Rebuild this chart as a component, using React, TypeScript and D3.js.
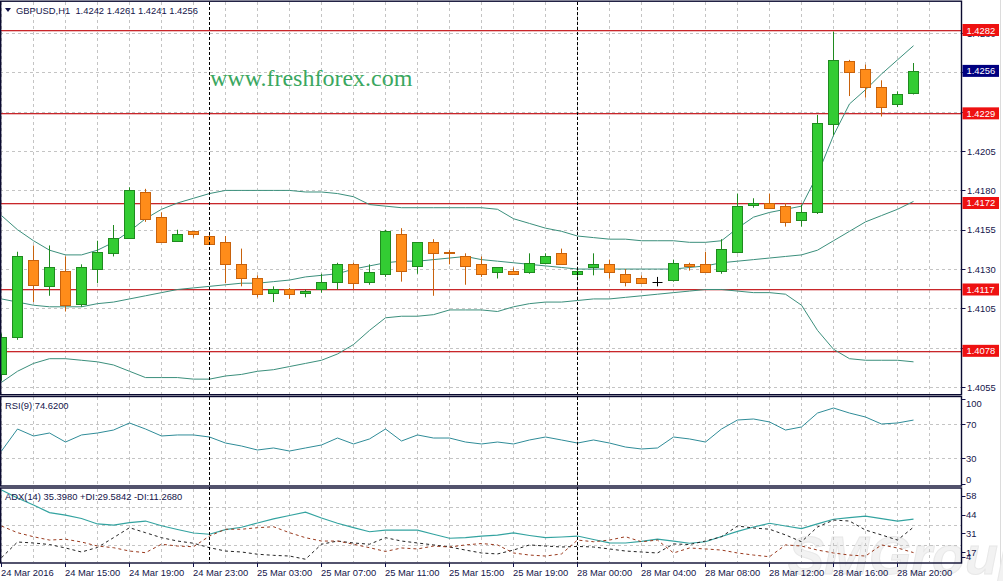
import * as d3 from "d3";
import React from "react";

// GBPUSD H1, 24 Mar 11:00 .. 28 Mar 21:00 (58 bars)
const opens = [1.4063, 1.4087, 1.4136, 1.4119, 1.4129, 1.4108, 1.413, 1.414, 1.415, 1.4179,
	1.4163, 1.4148, 1.4154, 1.4151, 1.4147, 1.4133, 1.4124, 1.4115, 1.4117, 1.4115,
	1.4117, 1.4122, 1.4133, 1.4122, 1.4127, 1.4152, 1.4132, 1.4147, 1.4141, 1.4138,
	1.4133, 1.4128, 1.4129, 1.4128, 1.4134, 1.414, 1.4127, 1.4131, 1.4133, 1.4127,
	1.4124, 1.4122, 1.4123, 1.4133, 1.4133, 1.4129, 1.4141, 1.4171, 1.4172, 1.417,
	1.4161, 1.4166, 1.4222, 1.4262, 1.4257, 1.4246, 1.4235, 1.4242];
const highs = [1.4089, 1.4141, 1.4145, 1.4145, 1.4138, 1.4133, 1.4148, 1.4158, 1.4182, 1.4181,
	1.4166, 1.4155, 1.4154, 1.4152, 1.4151, 1.4143, 1.4126, 1.4119, 1.4118, 1.4117,
	1.4127, 1.4134, 1.4134, 1.4133, 1.4155, 1.4156, 1.4147, 1.4149, 1.4142, 1.414,
	1.4138, 1.4131, 1.4131, 1.414, 1.414, 1.4143, 1.4131, 1.414, 1.4136, 1.413,
	1.4126, 1.4125, 1.4136, 1.4134, 1.4141, 1.4149, 1.4178, 1.4175, 1.4178, 1.4172,
	1.4171, 1.4228, 1.4281, 1.4263, 1.426, 1.425, 1.4243, 1.4261];
const lows = [1.4059, 1.4085, 1.4109, 1.4113, 1.4103, 1.4106, 1.4121, 1.4138, 1.415, 1.416,
	1.4147, 1.4148, 1.415, 1.4146, 1.4121, 1.4119, 1.4112, 1.4109, 1.4111, 1.4112,
	1.4115, 1.4117, 1.4117, 1.412, 1.4125, 1.4122, 1.4127, 1.4113, 1.4133, 1.412,
	1.4125, 1.4124, 1.4127, 1.4127, 1.4133, 1.4133, 1.4124, 1.4126, 1.4124, 1.4119,
	1.4121, 1.4119, 1.4122, 1.4129, 1.4128, 1.4127, 1.414, 1.4169, 1.4169, 1.4157,
	1.4157, 1.4165, 1.4215, 1.424, 1.4239, 1.4227, 1.4233, 1.4241];
const closes = [1.4087, 1.4138, 1.412, 1.4131, 1.4107, 1.4131, 1.4141, 1.415, 1.418, 1.4162,
	1.4147, 1.4152, 1.4152, 1.4146, 1.4133, 1.4124, 1.4114, 1.4117, 1.4114, 1.4116,
	1.4122, 1.4133, 1.4121, 1.4128, 1.4154, 1.4129, 1.4147, 1.414, 1.414, 1.4132,
	1.4127, 1.4131, 1.4127, 1.4134, 1.4138, 1.4133, 1.4129, 1.4133, 1.4128, 1.4122,
	1.4121, 1.4122, 1.4134, 1.4132, 1.4128, 1.4143, 1.417, 1.4172, 1.4169, 1.416,
	1.4166, 1.4223, 1.4263, 1.4255, 1.4246, 1.4233, 1.4241, 1.4256];

// Bollinger bands
const bbUpper = [1.4164, 1.4155, 1.4148, 1.4142, 1.4139, 1.4139, 1.4142, 1.4147, 1.4154, 1.4162,
	1.4168, 1.4172, 1.4175, 1.4178, 1.418, 1.418, 1.418, 1.418, 1.418, 1.4179,
	1.4179, 1.4178, 1.4176, 1.4171, 1.417, 1.4169, 1.4169, 1.4169, 1.4169, 1.4169,
	1.4169, 1.4168, 1.4162, 1.4159, 1.4156, 1.4154, 1.4151, 1.415, 1.4149, 1.4149,
	1.4148, 1.4148, 1.4148, 1.4147, 1.4147, 1.4148, 1.4156, 1.4163, 1.4166, 1.4168,
	1.417, 1.419, 1.4215, 1.4235, 1.4244, 1.4254, 1.4263, 1.4272];
const bbMiddle = [1.4111, 1.4109, 1.4107, 1.4106, 1.4106, 1.4106, 1.4108, 1.4109, 1.4111, 1.4113,
	1.4115, 1.4117, 1.4118, 1.4119, 1.412, 1.4121, 1.4121, 1.4122, 1.4123, 1.4125,
	1.4126, 1.4127, 1.413, 1.4132, 1.4134, 1.4135, 1.4135, 1.4136, 1.4137, 1.4138,
	1.4136, 1.4135, 1.4134, 1.4133, 1.4132, 1.4131, 1.413, 1.413, 1.413, 1.413,
	1.413, 1.413, 1.413, 1.4131, 1.4132, 1.4134, 1.4135, 1.4136, 1.4137, 1.4138,
	1.4139, 1.4142, 1.4148, 1.4154, 1.416, 1.4164, 1.4168, 1.4173];
const bbLower = [1.4058, 1.4065, 1.407, 1.4073, 1.4073, 1.4072, 1.4071, 1.4069, 1.4065, 1.4061,
	1.4061, 1.4061, 1.406, 1.406, 1.4062, 1.4063, 1.4065, 1.4066, 1.4068, 1.407,
	1.4072, 1.4076, 1.4082, 1.4091, 1.4099, 1.41, 1.41, 1.4101, 1.4104, 1.4104,
	1.4104, 1.4103, 1.4106, 1.4108, 1.4109, 1.4109, 1.411, 1.4111, 1.4111, 1.4112,
	1.4113, 1.4114, 1.4115, 1.4116, 1.4117, 1.4117, 1.4116, 1.4115, 1.4115, 1.4114,
	1.4107, 1.4091, 1.4079, 1.4073, 1.4072, 1.4072, 1.4072, 1.4071];

const rsi = [38.2, 64.1, 55.9, 59.4, 48.8, 57.1, 59.4, 62.9, 71.2, 64.1,
	55.9, 57.1, 57.1, 54.7, 47.6, 44.1, 39.4, 41.8, 38.2, 41.8,
	45.3, 53.5, 46.5, 52.4, 64.1, 50.0, 57.1, 53.5, 53.5, 48.8,
	46.5, 48.8, 46.5, 51.2, 54.7, 51.2, 47.6, 51.2, 47.6, 42.9,
	40.6, 41.8, 54.7, 52.4, 48.8, 64.1, 74.7, 75.9, 72.4, 62.9,
	66.5, 82.9, 88.8, 82.9, 78.2, 70.0, 71.2, 74.62];

const adx = [56.3, 50.6, 45.5, 40.1, 38.3, 35.8, 31.9, 31.1, 32.8, 34.0,
	30.6, 27.9, 25.4, 24.5, 27.8, 29.5, 32.6, 35.6, 38.0, 40.4,
	36.2, 32.4, 29.3, 26.3, 27.5, 27.5, 27.5, 24.5, 21.6, 22.1,
	23.2, 23.9, 25.4, 23.6, 22.0, 22.5, 23.2, 20.7, 18.3, 18.2,
	19.4, 20.9, 19.6, 18.0, 19.1, 22.9, 26.6, 29.7, 32.4, 30.4,
	28.5, 31.9, 35.3, 36.5, 37.6, 35.8, 34.0, 35.398];
const plusDi = [7.6, 18.9, 18.2, 17.1, 14.6, 11.7, 15.0, 22.0, 29.2, 25.6,
	22.0, 19.6, 18.0, 14.8, 12.4, 11.7, 10.1, 9.3, 8.8, 6.5,
	17.3, 19.6, 18.2, 17.3, 22.0, 19.6, 18.2, 16.8, 15.3, 13.1,
	11.0, 10.3, 13.1, 16.8, 16.0, 15.3, 15.7, 15.3, 13.9, 12.4,
	11.7, 11.0, 17.5, 17.1, 19.6, 22.7, 30.4, 29.0, 28.1, 24.0,
	19.1, 29.7, 34.7, 34.0, 27.5, 24.0, 20.3, 29.5842];
const minusDi = [30.4, 25.6, 22.7, 20.3, 20.9, 18.9, 16.0, 14.8, 12.4, 11.2,
	17.3, 16.0, 15.5, 23.2, 28.1, 28.1, 29.2, 29.9, 25.6, 22.0,
	19.6, 19.6, 17.3, 14.8, 12.1, 14.6, 13.9, 16.0, 15.3, 16.8,
	17.8, 16.8, 11.0, 9.5, 8.8, 10.3, 20.3, 19.1, 20.3, 22.7,
	19.1, 20.3, 11.0, 14.6, 13.9, 13.1, 11.0, 9.5, 8.3, 16.8,
	16.0, 13.1, 11.0, 9.5, 8.8, 16.8, 14.6, 11.268];

const timeLabels = ["24 Mar 2016", "24 Mar 15:00", "24 Mar 19:00", "24 Mar 23:00", "25 Mar 03:00",
	"25 Mar 07:00", "25 Mar 11:00", "25 Mar 15:00", "25 Mar 19:00", "28 Mar 00:00",
	"28 Mar 04:00", "28 Mar 08:00", "28 Mar 12:00", "28 Mar 16:00", "28 Mar 20:00"];
const daySeparators = [13, 36]; // bar index of 25 Mar 00:00 and 28 Mar 00:00
const priceTicks = [1.4055, 1.408, 1.4105, 1.413, 1.4155, 1.418, 1.4205, 1.423, 1.4255, 1.428];
const levels = [1.4282, 1.4229, 1.4172, 1.4117, 1.4078];
const lastPrice = 1.4256;
const rsiTicks = [100, 70, 30, 0];
const rsiGrid = [70, 30];
const adxTicks = [58, 44, 31, 17, 4];
const adxGrid = [44, 31, 17];

const FONT = "'Liberation Sans', Arial, sans-serif";
const INK = "#14144a";
const BORDER = "#0a0a30";
const GRID = "#c4c4c4";
const LEVEL = "#c8262a";
const PR = 961.5; // right edge of plot panels

const App: React.FC = () => {
	const n = closes.length;
	const idx = d3.range(n);
	const x = d3.scaleLinear().domain([0, n - 1]).range([1.5, 1.5 + 16 * (n - 1)]);
	const y = d3.scaleLinear().domain([1.4055, 1.4282]).range([387, 30]);
	const rsiY = d3.scaleLinear().domain([0, 100]).range([483.5, 398.5]);
	const adxY = d3.scaleLinear().domain([4, 58]).range([562.7, 487.7]);
	const snap = (v: number) => Math.round(v) + 0.5;

	const gridX = d3.range(0, n + 3, 2).map((i) => x(i));
	const mkLine = (s: d3.ScaleLinear<number, number>) =>
		d3.line<number>().x((_, i) => x(i)).y((v) => s(v));
	const priceLine = mkLine(y);
	const rsiLine = mkLine(rsiY);
	const adxLine = mkLine(adxY);

	const vGrid = (top: number, bottom: number) =>
		gridX.map((gx, i) => (
			<line key={i} x1={gx} x2={gx} y1={top} y2={bottom} stroke={GRID} strokeDasharray="3,3" />
		));

	return (
		<div style={{ position: "absolute", left: 0, top: 0 }}>
			<svg width={1003} height={581} style={{ display: "block", background: "#fff" }} fontFamily={FONT}>
				<rect x={0} y={0} width={1003} height={581} fill="#fff" />
				<line x1={1000.5} x2={1000.5} y1={0} y2={581} stroke="#dcdcdc" />

				{/* faint watermark behind everything */}
				<text x={788} y={574} fontSize={54} fontWeight="bold" fontStyle="italic" fill="#f2f2f2" stroke="#e8e8e8" strokeWidth={1}>
					SMGroup
				</text>

				{/* grids */}
				<g>
					{vGrid(2, 394)}
					{priceTicks.map((p) => (
						<line key={p} x1={0} x2={PR} y1={snap(y(p))} y2={snap(y(p))} stroke={GRID} strokeDasharray="3,3" />
					))}
					{vGrid(397, 485)}
					{rsiGrid.map((v) => (
						<line key={v} x1={0} x2={PR} y1={snap(rsiY(v))} y2={snap(rsiY(v))} stroke={GRID} strokeDasharray="3,3" />
					))}
					{vGrid(489, 562)}
					{adxGrid.map((v) => (
						<line key={v} x1={0} x2={PR} y1={snap(adxY(v))} y2={snap(adxY(v))} stroke={GRID} strokeDasharray="3,3" />
					))}
				</g>

				<text x={210} y={86} fontFamily="'Liberation Serif', 'Times New Roman', serif" fontSize={24} fill="#3aa760">
					www.freshforex.com
				</text>

				{/* levels */}
				{levels.map((p) => (
					<rect key={p} x={0} y={Math.round(y(p))} width={PR} height={1.3} fill={LEVEL} />
				))}

				{/* Bollinger bands */}
				<g fill="none" stroke="#3b8f7c" strokeWidth={1}>
					<path d={priceLine(bbUpper) ?? ""} />
					<path d={priceLine(bbMiddle) ?? ""} />
					<path d={priceLine(bbLower) ?? ""} />
				</g>

				{/* candles */}
				<g>
					{idx.map((i) => {
						const o = opens[i];
						const c = closes[i];
						const cx = x(i);
						const up = c > o;
						const doji = c === o;
						const stroke = doji ? "#000" : up ? "#1f8a1f" : "#c8620c";
						const fill = up ? "#33cc33" : "#ff8c1a";
						const top = Math.round(y(Math.max(o, c))) + 0.5;
						const bot = Math.round(y(Math.min(o, c))) + 0.5;
						return (
							<g key={i}>
								<line x1={cx} x2={cx} y1={y(highs[i])} y2={y(lows[i])} stroke={stroke} />
								{doji ? (
									<line x1={cx - 5} x2={cx + 5} y1={top} y2={top} stroke={stroke} />
								) : (
									<rect x={cx - 5} y={top} width={10} height={Math.max(1, bot - top)} fill={fill} stroke={stroke} />
								)}
							</g>
						);
					})}
				</g>

				{/* RSI */}
				<path d={rsiLine(rsi) ?? ""} fill="none" stroke="#2f8c98" strokeWidth={1} />

				{/* ADX */}
				<path d={adxLine(adx) ?? ""} fill="none" stroke="#33a3a0" strokeWidth={1.2} />
				<path d={adxLine(plusDi) ?? ""} fill="none" stroke="#222" strokeWidth={1} strokeDasharray="3,3" />
				<path d={adxLine(minusDi) ?? ""} fill="none" stroke="#9a3a1e" strokeWidth={1} strokeDasharray="3,3" />

				{/* day separators */}
				{daySeparators.map((b) => (
					<line key={b} x1={x(b)} x2={x(b)} y1={2} y2={563} stroke="#000" strokeDasharray="3,2" />
				))}

				{/* panel frames */}
				<g fill="none" stroke={BORDER} strokeWidth={1.4}>
					<rect x={0.7} y={1.2} width={PR - 0.7} height={393.5} />
					<rect x={0.7} y={396.5} width={PR - 0.7} height={89.5} />
					<rect x={0.7} y={488} width={PR - 0.7} height={75} />
				</g>

				{/* titles */}
				<path d="M5,8 L11,8 L8,12 Z" fill={INK} />
				<text x={16} y={13.5} fontSize={9.4} fill={INK} style={{ whiteSpace: "pre" }}>
					{"GBPUSD,H1  1.4242 1.4261 1.4241 1.4256"}
				</text>
				<text x={5} y={408.5} fontSize={9.4} fill={INK}>RSI(9) 74.6200</text>
				<text x={5} y={500} fontSize={9.4} fill={INK}>ADX(14) 35.3980 +DI:29.5842 -DI:11.2680</text>

				{/* price axis */}
				<g fontSize={9.4} fill={INK}>
					{priceTicks.map((p) => (
						<g key={p}>
							<line x1={PR} x2={PR + 4} y1={snap(y(p))} y2={snap(y(p))} stroke={INK} />
							<text x={967} y={y(p) + 3.5}>{p.toFixed(4)}</text>
						</g>
					))}
					{levels.map((p) => (
						<g key={p}>
							<rect x={962.5} y={y(p) - 6} width={36.5} height={12} fill="#ee1111" />
							<text x={966.5} y={y(p) + 3.5} fill="#fff">{p.toFixed(4)}</text>
						</g>
					))}
					<rect x={962.5} y={y(lastPrice) - 6} width={36.5} height={12} fill="#000080" />
					<text x={966.5} y={y(lastPrice) + 3.5} fill="#fff">{lastPrice.toFixed(4)}</text>
				</g>

				{/* RSI axis */}
				<g fontSize={9.4} fill={INK}>
					{rsiTicks.map((v) => {
						const ty = Math.min(479, Math.max(403, rsiY(v)));
						return (
							<g key={v}>
								<line x1={PR} x2={PR + 4} y1={snap(rsiY(v))} y2={snap(rsiY(v))} stroke={INK} />
								<text x={966} y={ty + 3.5}>{v}</text>
							</g>
						);
					})}
				</g>

				{/* ADX axis */}
				<g fontSize={9.4} fill={INK}>
					{adxTicks.map((v) => {
						const ty = Math.min(556.5, adxY(v) + 7.8);
						return (
							<g key={v}>
								<line x1={PR} x2={PR + 4} y1={snap(ty)} y2={snap(ty)} stroke={INK} />
								<text x={966} y={ty + 3.5}>{v}</text>
							</g>
						);
					})}
				</g>

				{/* time axis */}
				<g fontSize={9.4} fill={INK}>
					{timeLabels.map((t, k) => {
						const tx = x(k * 4);
						return (
							<g key={t}>
								<line x1={tx} x2={tx} y1={563} y2={567} stroke={INK} />
								<text x={tx - 0.5} y={576}>{t}</text>
							</g>
						);
					})}
				</g>
			</svg>
		</div>
	);
};

export default App;
